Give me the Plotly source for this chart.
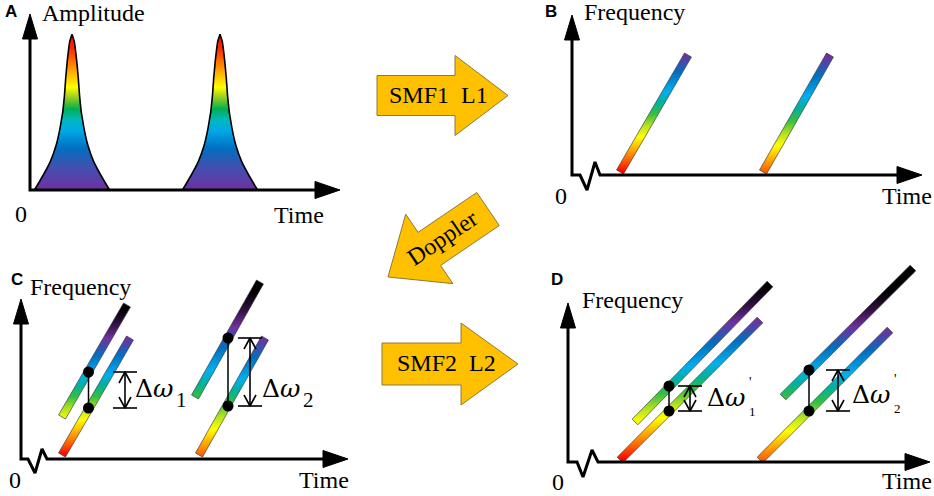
import numpy as np
import plotly.graph_objects as go

W, H = 934, 496
SERIF = "Liberation Serif"
SANS = "Liberation Sans"
MATH = "DejaVu Serif"

# ---- panel frames: box on the page (left, top, right, bottom) and axis origin, in px
panel_keys = ["A", "B", "C", "D"]
panel_box = {"A": (0, 0, 360, 248), "B": (540, 0, 934, 248),
             "C": (0, 248, 360, 496), "D": (540, 248, 934, 496)}
panel_origin = {"A": (30, 190), "B": (572, 175), "C": (21, 459), "D": (568, 462)}

# axis arrows (local units, origin at the corner)
axis_ytip = {"A": 176, "B": 160, "C": 160, "D": 159}
axis_xtip = {"A": 310, "B": 350, "C": 327, "D": 362}
zigzag_t = {"A": [], "B": [8, 15, 23, 28], "C": [7, 14, 21, 26], "D": [9, 15, 24, 30]}
zigzag_f = {"A": [], "B": [0, -15, 13, 0], "C": [0, -14, 10, 0], "D": [0, -15, 12, 0]}

# ---- panel A: two pulses, half profile
pulse_centres = [42, 190]
pulse_half_dt = [37.5, 28.7, 21.7, 15.8, 12.0, 9.2, 7.5, 6.3, 4.8, 2.3, 0.0]
pulse_half_amp = [0, 15, 28.4, 45, 61.7, 78.4, 95, 111.7, 128.4, 148.4, 155.7]

# ---- chirped pulses (bars): start/end of the centre line + colour range in frequency
B_t0, B_f0, B_t1, B_f1 = [48, 191], [3, 3], [116, 258], [120, 120]
B_clo, B_chi = [3, -9], [149, 150]

C_t0, C_f0, C_t1, C_f1 = [41, 41, 178, 174], [4, 42, 4, 62], [109, 106, 244, 239], [121, 154, 121, 177]
C_clo, C_chi = [4, 4, -9, -8], [150, 150, 153, 167]

D_t0, D_f0, D_t1, D_f1 = [52, 67, 192, 215], [2, 40, 2, 65], [192, 202, 322, 345], [142, 178, 132, 194]
D_clo, D_chi = [2, -3, -12, -5], [177, 175, 168, 170]

# sample points (dots) and the frequency gaps
C_dot_t, C_dot_hi, C_dot_lo, C_brk_t = [67.5, 207], [87, 121], [51, 53], [104, 229]
D_dot_t, D_dot_hi, D_dot_lo, D_brk_t = [101, 241], [76, 92], [51, 51], [122, 270]
C_gap_sub = ["1", "2"]
D_gap_sub = ["1", "2"]
C_gap_lx, C_gap_ly = [112, 239], [71, 71]
D_gap_lx, D_gap_ly = [137, 282], [65, 68]

# ---- block arrows between the panels (page px, y down)
arrow_text = ["SMF1  L1", "Doppler", "SMF2  L2"]
arrow_cx = [442.5, 438, 450]
arrow_cy = [95.5, 243, 364]
arrow_dir = [0, 145.8, 0]
arrow_len = [131, 121, 136]
arrow_shaft = [40, 40, 42]
arrow_head = [80, 84, 82]
arrow_headlen = [53, 50, 57]
arrow_tx = [438, 442, 446]
arrow_ty = [95, 238, 363]
arrow_tangle = [0, -34, 0]

FREQ_SCALE = [[0, "#ff0000"], [0.08, "#ff6000"], [0.16, "#ffb000"], [0.24, "#ffff00"],
              [0.32, "#b0e020"], [0.4, "#30c040"], [0.48, "#00b0a0"], [0.55, "#00b0f0"],
              [0.68, "#0070c0"], [0.8, "#7030a0"], [0.9, "#301040"], [1, "#000000"]]
AMP_SCALE = [[0, "#7030a0"], [0.15, "#4050b0"], [0.27, "#0070c0"], [0.38, "#00a8e8"],
             [0.45, "#00b8c0"], [0.52, "#00b050"], [0.6, "#a0d020"], [0.66, "#ffff00"],
             [0.78, "#ff9900"], [0.9, "#ff3000"], [1, "#ff0000"]]

fig = go.Figure()
annotations = []


def ax_names(i):
    s = "" if i == 0 else str(i + 1)
    return "x" + s, "y" + s


def add(tr, xa, ya):
    tr.update(xaxis=xa, yaxis=ya, hoverinfo="skip", showlegend=False)
    fig.add_trace(tr)


def text(x, y, s, xa, ya, size=24, family=SERIF, xanchor="left", angle=0, bold=False):
    if bold:
        s = "<b>" + s + "</b>"
    annotations.append(dict(x=x, y=y, xref=xa, yref=ya, text=s, showarrow=False,
                            xanchor=xanchor, yanchor="middle", textangle=angle,
                            font=dict(family=family, size=size, color="black")))


def bar(t0, f0, t1, f1, clo, chi, xa, ya, w=8):
    d = np.array([t1 - t0, f1 - f0], float)
    d /= np.hypot(*d)
    n = np.array([-d[1], d[0]]) * w / 2
    xs = [t0 + n[0], t1 + n[0], t1 - n[0], t0 - n[0], t0 + n[0]]
    ys = [f0 + n[1], f1 + n[1], f1 - n[1], f0 - n[1], f0 + n[1]]
    add(go.Scatter(x=xs, y=ys, mode="lines", fill="toself",
                   line=dict(color="rgba(60,60,60,0.85)", width=0.8),
                   fillgradient=dict(type="vertical", colorscale=FREQ_SCALE, start=clo, stop=chi)),
        xa, ya)


def axes(key, xa, ya):
    yt, xt = axis_ytip[key], axis_xtip[key]
    xs = [0, 0] + zigzag_t[key] + [xt - 20]
    ys = [yt - 20, 0] + zigzag_f[key] + [0]
    add(go.Scatter(x=xs, y=ys, mode="lines", line=dict(color="black", width=3)), xa, ya)
    add(go.Scatter(x=[0, -7.5, 7.5, 0], y=[yt, yt - 25, yt - 25, yt], mode="lines", fill="toself",
                   fillcolor="black", line=dict(color="black", width=1)), xa, ya)
    add(go.Scatter(x=[xt, xt - 25, xt - 25, xt], y=[0, 8.5, -8.5, 0], mode="lines", fill="toself",
                   fillcolor="black", line=dict(color="black", width=1)), xa, ya)


def gaps(dot_t, dot_hi, dot_lo, brk_t, xa, ya):
    for t, hi, lo, bt in zip(dot_t, dot_hi, dot_lo, brk_t):
        add(go.Scatter(x=[t, t], y=[lo, hi], mode="lines", line=dict(color="black", width=1.5)), xa, ya)
        add(go.Scatter(x=[t, t], y=[lo, hi], mode="markers", marker=dict(size=11, color="black")), xa, ya)
        xs = [bt - 12, bt + 12, None, bt - 12, bt + 12, None, bt, bt, None,
              bt - 6, bt, bt + 6, None, bt - 6, bt, bt + 6]
        ys = [hi, hi, None, lo, lo, None, lo, hi, None,
              hi - 11, hi, hi - 11, None, lo + 11, lo, lo + 11]
        add(go.Scatter(x=xs, y=ys, mode="lines", line=dict(color="black", width=1.6)), xa, ya)


# ---- panel A
xa, ya = ax_names(0)
for c in pulse_centres:
    xs = [c - d for d in pulse_half_dt] + [c + d for d in pulse_half_dt[::-1]]
    ys = pulse_half_amp + pulse_half_amp[::-1]
    add(go.Scatter(x=xs, y=ys, mode="lines", fill="toself",
                   line=dict(color="black", width=1.6, shape="spline", smoothing=0.3),
                   fillgradient=dict(type="vertical", colorscale=AMP_SCALE, start=0,
                                     stop=max(pulse_half_amp))), xa, ya)
axes("A", xa, ya)
text(-27, 179, "A", xa, ya, size=17, family=SANS, bold=True)
text(10, 177, "Amplitude", xa, ya)
text(-9, -24, "0", xa, ya, xanchor="center")
text(242, -25, "Time", xa, ya)

# ---- panel B
xa, ya = ax_names(1)
for args in zip(B_t0, B_f0, B_t1, B_f1, B_clo, B_chi):
    bar(*args, xa, ya)
axes("B", xa, ya)
text(-29, 164, "B", xa, ya, size=17, family=SANS, bold=True)
text(10, 163, "Frequency", xa, ya)
text(-11, -21, "0", xa, ya, xanchor="center")
text(308, -21, "Time", xa, ya)

# ---- panel C
xa, ya = ax_names(2)
for args in zip(C_t0, C_f0, C_t1, C_f1, C_clo, C_chi):
    bar(*args, xa, ya)
axes("C", xa, ya)
gaps(C_dot_t, C_dot_hi, C_dot_lo, C_brk_t, xa, ya)
for lx, ly, sub in zip(C_gap_lx, C_gap_ly, C_gap_sub):
    text(lx, ly, "Δ<i>ω</i>", xa, ya, size=25, family=MATH)
    text(lx + 41, ly - 12, sub, xa, ya, size=21)
text(-12, 180, "C", xa, ya, size=17, family=SANS, bold=True)
text(7, 172, "Frequency", xa, ya)
text(-6, -21, "0", xa, ya, xanchor="center")
text(276, -21, "Time", xa, ya)

# ---- panel D
xa, ya = ax_names(3)
for args in zip(D_t0, D_f0, D_t1, D_f1, D_clo, D_chi):
    bar(*args, xa, ya)
axes("D", xa, ya)
gaps(D_dot_t, D_dot_hi, D_dot_lo, D_brk_t, xa, ya)
for lx, ly, sub in zip(D_gap_lx, D_gap_ly, D_gap_sub):
    text(lx, ly, "Δ<i>ω</i>", xa, ya, size=25, family=MATH)
    text(lx + 42, ly + 15, "'", xa, ya, size=14)
    text(lx + 42, ly - 14, sub, xa, ya, size=13)
text(-19, 183, "D", xa, ya, size=17, family=SANS, bold=True)
text(12, 162, "Frequency", xa, ya)
text(-10, -20, "0", xa, ya, xanchor="center")
text(312, -19, "Time", xa, ya)

# ---- block arrows
xa, ya = ax_names(4)
for i in range(len(arrow_text)):
    L, s, h, hl = arrow_len[i], arrow_shaft[i], arrow_head[i], arrow_headlen[i]
    u = np.array([-L / 2, L / 2 - hl, L / 2 - hl, L / 2, L / 2 - hl, L / 2 - hl, -L / 2, -L / 2])
    v = np.array([-s / 2, -s / 2, -h / 2, 0, h / 2, s / 2, s / 2, -s / 2])
    a = np.radians(arrow_dir[i])
    xs = arrow_cx[i] + u * np.cos(a) - v * np.sin(a)
    ys = arrow_cy[i] + u * np.sin(a) + v * np.cos(a)
    add(go.Scatter(x=xs, y=ys, mode="lines", fill="toself", fillcolor="#ffc000",
                   line=dict(color="#8c7a3c", width=1)), xa, ya)
    text(arrow_tx[i], arrow_ty[i], arrow_text[i], xa, ya, size=24, xanchor="center",
         angle=arrow_tangle[i])

layout = dict(width=W, height=H, margin=dict(l=0, r=0, t=0, b=0),
              paper_bgcolor="white", plot_bgcolor="rgba(0,0,0,0)",
              annotations=annotations, showlegend=False)
for i, key in enumerate(panel_keys):
    l, t, r, b = panel_box[key]
    ox, oy = panel_origin[key]
    xa, ya = ax_names(i)
    layout["xaxis" + xa[1:]] = dict(domain=[l / W, r / W], range=[l - ox, r - ox], visible=False,
                                   fixedrange=True, anchor=ya)
    layout["yaxis" + ya[1:]] = dict(domain=[1 - b / H, 1 - t / H], range=[oy - b, oy - t],
                                   visible=False, fixedrange=True, anchor=xa)
layout["xaxis5"] = dict(domain=[0, 1], range=[0, W], visible=False, fixedrange=True, anchor="y5")
layout["yaxis5"] = dict(domain=[0, 1], range=[H, 0], visible=False, fixedrange=True, anchor="x5")
fig.update_layout(**layout)

# the page body has a default 8px margin; drop it so the figure fills the window
fig.write_html("out.html", config={"displayModeBar": False},
               post_script="document.body.style.margin='0';document.body.style.overflow='hidden';")
